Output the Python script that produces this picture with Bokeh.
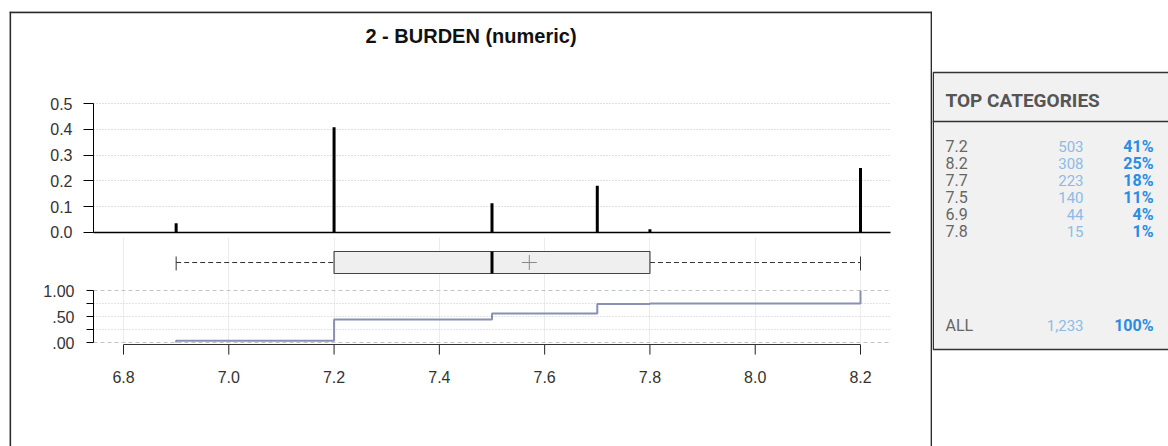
import numpy as np
from bokeh.plotting import figure
from bokeh.layouts import row
from bokeh.models import (Range1d, LinearAxis, FixedTicker, PrintfTickFormatter,
                          Grid, Span, Label, ColumnDataSource)
from bokeh.core.properties import value
from bokeh.embed import file_html
from bokeh.resources import INLINE

# ---- data: BURDEN value counts ----
values = [6.9, 7.2, 7.5, 7.7, 7.8, 8.2]
counts = [44, 503, 140, 223, 15, 308]
x_ticks = [6.8, 7.0, 7.2, 7.4, 7.6, 7.8, 8.0, 8.2]
freq_ticks = [0.0, 0.1, 0.2, 0.3, 0.4, 0.5]
ecdf_ticks = [0.0, 0.5, 1.0]
ecdf_minor = [0.25, 0.75]
ecdf_labels = {0.0: ".00", 0.5: ".50", 1.0: "1.00"}

# table ordering (top categories)
top_labels = ["7.2", "8.2", "7.7", "7.5", "6.9", "7.8"]
top_counts = [503, 308, 223, 140, 44, 15]

total = sum(counts)
freq = [c / total for c in counts]
cum = list(np.cumsum(counts) / total)

sample = np.repeat(values, counts)
q1, med, q3 = np.percentile(sample, [25, 50, 75])
mean = float(sample.mean())
lo, hi = float(sample.min()), float(sample.max())

FONT = "Liberation Sans"
TICK_SIZE = "16px"
BORDER = "#2a2a2a"

# ---- left panel: bars + boxplot + ECDF in one frame ----
X0, X1 = 6.58344, 8.33677
Y0, Y1 = -0.82946, 0.85659
AX = 6.743           # where the vertical axes sit
XR = 8.257           # right end of the plotting area
PX = 1 / 526.43      # one pixel along x
XAX = -0.04          # ECDF-scale position of the value axis
TICK = 10 / 52       # 10px tick length on the ECDF scale

p = figure(width=932, height=446, x_range=Range1d(X0, X1), y_range=Range1d(Y0, Y1),
           x_axis_type=None, y_axis_type=None,
           output_backend="svg", toolbar_location=None,
           min_border_left=9, min_border_top=11, min_border_right=0, min_border_bottom=0,
           outline_line_color=None, background_fill_color="white", border_fill_color="white")
p.extra_y_ranges = {"ecdf": Range1d(-2.0, 6.3654)}

# frame border on left, top, right
p.add_layout(Span(location=X0 + 0.0012, dimension="height", line_color=BORDER, line_width=2))
p.add_layout(Span(location=X1 - 0.0016, dimension="height", line_color=BORDER, line_width=2))
p.add_layout(Span(location=Y1 - 0.003, dimension="width", line_color=BORDER, line_width=2))

# title
p.add_layout(Label(x=(X0 + X1) / 2, y=0.7597, text="2 - BURDEN (numeric)",
                   text_align="center", text_baseline="middle",
                   text_font=FONT, text_font_style="bold", text_font_size="20px",
                   text_color="#111111"))

# grids
p.add_layout(Grid(dimension=1, ticker=FixedTicker(ticks=freq_ticks[1:]),
                  cross_bounds=(AX, XR), grid_line_color="#c2c2c2",
                  grid_line_dash="1 2", grid_line_width=1))
p.add_layout(Grid(dimension=0, ticker=FixedTicker(ticks=x_ticks), y_range_name="ecdf",
                  cross_bounds=(0.0, 2.02), grid_line_color="#ededed", grid_line_width=1))
p.add_layout(Grid(dimension=1, ticker=FixedTicker(ticks=[0.25, 0.5, 0.75]), y_range_name="ecdf",
                  cross_bounds=(AX, XR), grid_line_color="#c8c8c8",
                  grid_line_dash="1 2", grid_line_width=1))
p.add_layout(Grid(dimension=1, ticker=FixedTicker(ticks=[0.0, 1.0]), y_range_name="ecdf",
                  cross_bounds=(AX, XR), grid_line_color="#c4c4c4",
                  grid_line_dash="4 3", grid_line_width=1))

# unlabelled ECDF quarter ticks
p.add_layout(Grid(dimension=1, ticker=FixedTicker(ticks=ecdf_minor), y_range_name="ecdf",
                  cross_bounds=(AX - 7 * PX, AX), grid_line_color="black",
                  grid_line_width=1, level="overlay"))

# tick marks under the value axis
p.segment(x0=x_ticks, y0=[XAX] * len(x_ticks), x1=x_ticks, y1=[XAX - TICK] * len(x_ticks),
          y_range_name="ecdf", line_color="#222222", line_width=1)

# frequency spikes
p.segment(x0=values, y0=[0] * len(values), x1=values, y1=freq,
          line_color="black", line_width=3)

# axes for the frequency panel
ya = LinearAxis(fixed_location=AX, bounds=(0, 0.5), ticker=FixedTicker(ticks=freq_ticks),
                formatter=PrintfTickFormatter(format="%.1f"),
                major_tick_out=10, major_tick_in=0, minor_tick_out=0, minor_tick_in=0,
                major_label_standoff=11, axis_line_color="black", major_tick_line_color="black",
                major_label_text_font=FONT, major_label_text_font_size=TICK_SIZE,
                major_label_text_color="#333333")
p.add_layout(ya, "left")
xa_top = LinearAxis(fixed_location=0, bounds=(AX, XR), ticker=FixedTicker(ticks=[]),
                    major_tick_out=0, major_tick_in=0, minor_tick_out=0, minor_tick_in=0,
                    axis_line_color="black", axis_line_width=1.5)
p.add_layout(xa_top, "below")

# boxplot
BT, BB, BM = 1.75, 1.327, 1.538
p.segment(x0=[lo, q3], y0=[BM, BM], x1=[q1, hi], y1=[BM, BM], y_range_name="ecdf",
          line_color="#333333", line_width=1, line_dash="5 3")
p.segment(x0=[lo, hi], y0=[1.385, 1.385], x1=[lo, hi], y1=[1.654, 1.654], y_range_name="ecdf",
          line_color="#333333", line_width=1)
p.quad(left=[q1], right=[q3], bottom=[BB], top=[BT], y_range_name="ecdf",
       fill_color="#efefef", line_color="#444444", line_width=1.2)
p.segment(x0=[med], y0=[BB], x1=[med], y1=[BT], y_range_name="ecdf",
          line_color="black", line_width=3)
p.scatter(x=[mean], y=[BM], marker="cross", size=15, y_range_name="ecdf",
          line_color="#8a8a8a", line_width=1, fill_color=None)

# empirical CDF
p.step(x=[values[0]] + values, y=[0.0] + cum, mode="after", y_range_name="ecdf",
       line_color="#8890b6", line_width=2)

# axes for the ECDF panel
ya2 = LinearAxis(y_range_name="ecdf", fixed_location=AX, bounds=(0, 1),
                 ticker=FixedTicker(ticks=ecdf_ticks), major_label_overrides=ecdf_labels,
                 major_tick_out=7, major_tick_in=0, minor_tick_out=0, minor_tick_in=0,
                 major_label_standoff=12, axis_line_color="black",
                 major_label_text_font=FONT, major_label_text_font_size=TICK_SIZE,
                 major_label_text_color="#333333")
p.add_layout(ya2, "left")

xa = LinearAxis(y_range_name="ecdf", fixed_location=XAX, bounds=(6.8, 8.2),
                ticker=FixedTicker(ticks=x_ticks), formatter=PrintfTickFormatter(format="%.1f"),
                major_tick_out=0, major_tick_in=0, minor_tick_out=0, minor_tick_in=0,
                major_label_standoff=26, axis_line_color="#333333", axis_line_width=1.2,
                major_label_text_font=FONT, major_label_text_font_size=TICK_SIZE,
                major_label_text_color="#333333")
p.add_layout(xa, "below")

# ---- right panel: top categories table ----
# rows are 17px apart; row 0 is the first category
n = len(top_labels)
rows_y = list(range(n))
pct = [f"{round(100 * c / total)}%" for c in top_counts]

pr = figure(width=236, height=446, x_range=Range1d(0, 236), y_range=Range1d(17.647, -7.941),
            x_axis_type=None, y_axis_type=None, output_backend="svg", toolbar_location=None,
            min_border_left=0, min_border_top=11, min_border_right=0, min_border_bottom=0,
            background_fill_color="white", border_fill_color="white",
            outline_line_color=None)

# panel box
pr.quad(left=[0.75], right=[236.5], top=[-4.353], bottom=[11.94],
        fill_color="#f1f1f1", line_color="#333333", line_width=1.5)

pr.text(x=[13], y=[-2.706], text=["TOP CATEGORIES"], text_font=value("Roboto"),
        text_font_style="bold", text_font_size="19px", text_color="#555555",
        text_baseline="middle", text_align="left")
pr.segment(x0=[0], y0=[-1.47], x1=[236], y1=[-1.47], line_color="#333333", line_width=1.5)

src = ColumnDataSource(dict(y=rows_y, lab=top_labels,
                            cnt=[f"{c:,}" for c in top_counts], pct=pct))
pr.text(x=13, y="y", text="lab", source=src, text_font=value("Roboto"),
        text_font_size="16px", text_color="#666666", text_baseline="middle")
pr.text(x=151, y="y", text="cnt", source=src, text_font=value("Roboto"),
        text_font_size="15px", text_color="#8dbbe6", text_baseline="middle", text_align="right")
pr.text(x=221, y="y", text="pct", source=src, text_font=value("Roboto"),
        text_font_style="bold", text_font_size="16px", text_color="#2b8ce3",
        text_baseline="middle", text_align="right")

ALL_Y = 10.53
pr.text(x=[13], y=[ALL_Y], text=["ALL"], text_font=value("Roboto"),
        text_font_size="16px", text_color="#666666", text_baseline="middle")
pr.text(x=[151], y=[ALL_Y], text=[f"{total:,}"], text_font=value("Roboto"),
        text_font_size="15px", text_color="#8dbbe6", text_baseline="middle", text_align="right")
pr.text(x=[221], y=[ALL_Y], text=["100%"], text_font=value("Roboto"),
        text_font_style="bold", text_font_size="16px", text_color="#2b8ce3",
        text_baseline="middle", text_align="right")

layout = row(p, pr)
open("out.html", "w").write(file_html(layout, INLINE))
